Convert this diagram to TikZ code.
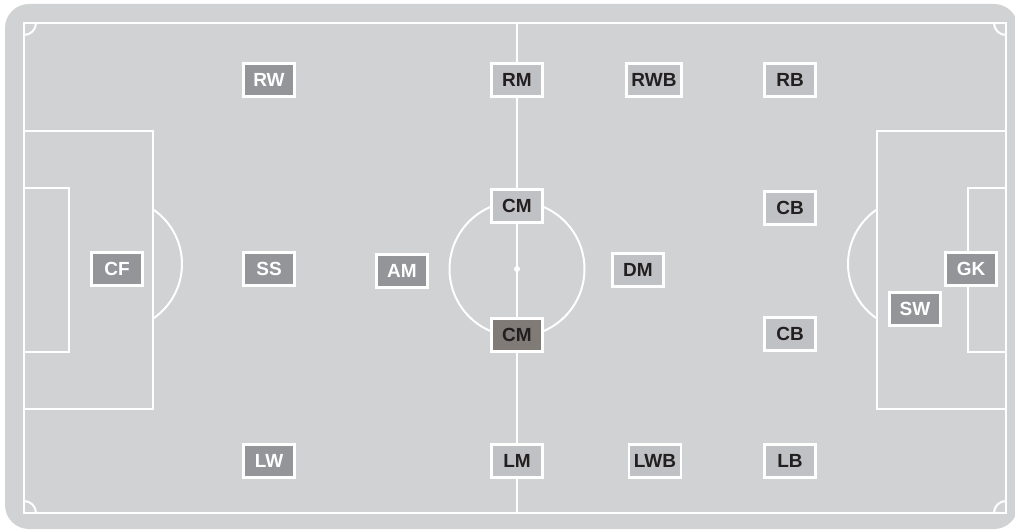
\documentclass[tikz,border=0pt]{standalone}
\usepackage{fontspec}
\setmainfont{Liberation Sans}
\definecolor{bg}{HTML}{D1D2D4}
\definecolor{darkbox}{HTML}{939598}
\definecolor{lightbox}{HTML}{C0C1C4}
\definecolor{cmbox}{HTML}{807B77}
\definecolor{txt}{HTML}{231F20}
\begin{document}
\begin{tikzpicture}[x=1pt,y=-1pt,
  pitch/.style={draw=white,line width=2pt},
  posbox/.style={draw=white,line width=2.5pt,minimum width=51pt,minimum height=33pt,
    inner xsep=5pt,inner ysep=0pt,font=\fontsize{19}{19}\selectfont\bfseries},
  dk/.style={posbox,fill=darkbox,text=white},
  lt/.style={posbox,fill=lightbox,text=txt},
  cmb/.style={posbox,fill=cmbox,text=txt}]
\useasboundingbox (0,0) rectangle (1015,532);
\fill[white] (0,0) rectangle (1015,532);
\fill[bg,rounded corners=24pt] (5,4) rectangle (1018,529);
% pitch
\draw[pitch] (24,23) rectangle (1006,513);
\draw[pitch] (517,23) -- (517,513);
\draw[pitch] (517,269) circle[radius=67.5];
\fill[white] (517,269) circle[radius=3];
\draw[pitch] (24,131) rectangle (153,409);
\draw[pitch] (24,188) rectangle (69,352);
\draw[pitch] (877,131) rectangle (1006,409);
\draw[pitch] (968,188) rectangle (1006,352);
\draw[pitch] (116,264) ++(-55.9:66) arc[start angle=-55.9,end angle=55.9,radius=66];
\draw[pitch] (914,264) ++(124.1:66) arc[start angle=124.1,end angle=235.9,radius=66];
\draw[pitch] (24,35) arc[start angle=90,end angle=0,radius=12];
\draw[pitch] (994,23) arc[start angle=180,end angle=90,radius=12];
\draw[pitch] (24,501) arc[start angle=270,end angle=360,radius=12];
\draw[pitch] (994,513) arc[start angle=180,end angle=270,radius=12];
% positions
\node[dk] (rw) at (269,80) {RW};
\node[lt] (rm) at (517,80) {RM};
\node[lt] (rwb) at (654,80) {RWB};
\node[lt] (rb) at (790,80) {RB};
\node[dk] (cf) at (117,269) {CF};
\node[dk] (ss) at (269,269) {SS};
\node[dk] (am) at (402,271) {AM};
\node[lt] (cmt) at (517,206) {CM};
\node[cmb] (cmbot) at (517,335) {CM};
\node[lt] (dm) at (638,270) {DM};
\node[lt] (cbt) at (790,208) {CB};
\node[lt] (cbb) at (790,334) {CB};
\node[dk] (gk) at (971,269) {GK};
\node[dk] (sw) at (915,309) {SW};
\node[dk] (lw) at (269,461) {LW};
\node[lt] (lm) at (517,461) {LM};
\node[lt] (lwb) at (655,461) {LWB};
\node[lt] (lb) at (790,461) {LB};
\end{tikzpicture}
\end{document}
